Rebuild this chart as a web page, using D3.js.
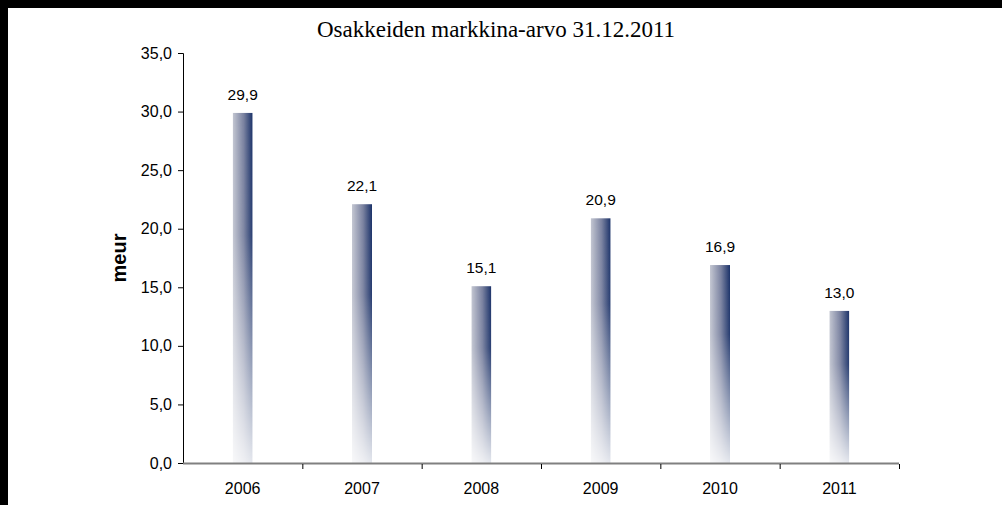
<!DOCTYPE html>
<html>
<head>
<meta charset="utf-8">
<script src="https://cdn.jsdelivr.net/npm/d3@7"></script>
<style>
  html, body { margin: 0; padding: 0; background: #000; }
  svg { display: block; }
</style>
</head>
<body>
<svg id="chart" width="1002" height="505"></svg>
<script>
// Market value of shares, million euros, at year end
const years = ["2006", "2007", "2008", "2009", "2010", "2011"];
const values = [29.9, 22.1, 15.1, 20.9, 16.9, 13.0];
const yTicks = [0, 5, 10, 15, 20, 25, 30, 35];
const titleText = "Osakkeiden markkina-arvo 31.12.2011";
const yLabel = "meur";

const svg = d3.select("#chart");
const W = 1002, H = 505;
const plot = { left: 183, right: 899, top: 53, bottom: 463 };
const sans = "Liberation Sans, Arial, sans-serif";

// white canvas with the dark frame showing on top and left
svg.append("rect").attr("x", 0).attr("y", 0).attr("width", W).attr("height", H).attr("fill", "#000");
svg.append("rect").attr("x", 8).attr("y", 8).attr("width", W - 8).attr("height", H - 8).attr("fill", "#fff");

const fmt = v => d3.format(".1f")(v).replace(".", ",");

const x = d3.scaleBand().domain(years).range([plot.left, plot.right]).paddingInner(0).paddingOuter(0);
const y = d3.scaleLinear().domain([0, 35]).range([plot.bottom, plot.top]);

// gradients: light-to-navy across the bar, fading out toward the base
const defs = svg.append("defs");
const hg = defs.append("linearGradient").attr("id", "barH").attr("x1", 0).attr("x2", 1).attr("y1", 0).attr("y2", 0);
hg.append("stop").attr("offset", "0%").attr("stop-color", "#c4c7d2");
hg.append("stop").attr("offset", "55%").attr("stop-color", "#7a82a0");
hg.append("stop").attr("offset", "100%").attr("stop-color", "#1a3168");
const vg = defs.append("linearGradient").attr("id", "fadeV").attr("x1", 0).attr("x2", 0).attr("y1", 0).attr("y2", 1);
vg.append("stop").attr("offset", "0%").attr("stop-color", "#fff");
vg.append("stop").attr("offset", "35%").attr("stop-color", "#fff").attr("stop-opacity", 0.95);
vg.append("stop").attr("offset", "100%").attr("stop-color", "#fff").attr("stop-opacity", 0.12);
const mask = defs.append("mask").attr("id", "fadeMask").attr("maskContentUnits", "objectBoundingBox");
mask.append("rect").attr("x", 0).attr("y", 0).attr("width", 1).attr("height", 1).attr("fill", "url(#fadeV)");

const barW = 20;
svg.append("g").selectAll("rect").data(values).join("rect")
  .attr("x", (d, i) => x(years[i]) + x.bandwidth() / 2 - barW / 2)
  .attr("y", d => y(d))
  .attr("width", barW)
  .attr("height", d => y(0) - y(d))
  .attr("fill", "url(#barH)")
  .attr("mask", "url(#fadeMask)");

// value labels
svg.append("g").selectAll("text").data(values).join("text")
  .attr("x", (d, i) => x(years[i]) + x.bandwidth() / 2)
  .attr("y", d => y(d) - 13)
  .attr("text-anchor", "middle")
  .attr("font-family", sans)
  .attr("font-size", 15.5)
  .attr("fill", "#000")
  .text(fmt);

// y axis
const yAxis = d3.axisLeft(y).tickValues(yTicks).tickSize(5).tickPadding(6).tickFormat(fmt);
const gy = svg.append("g").attr("transform", `translate(${plot.left},0)`).call(yAxis);
gy.select(".domain").attr("stroke", "#000");
gy.selectAll(".tick line").attr("stroke", "#000");
gy.selectAll(".tick text").attr("font-family", sans).attr("font-size", 16).attr("fill", "#000");

// x axis: gray baseline with dividers between categories
const gx = svg.append("g").attr("transform", `translate(0,${plot.bottom})`);
gx.append("line").attr("x1", plot.left).attr("x2", plot.right).attr("y1", 0.5).attr("y2", 0.5)
  .attr("stroke", "#808080").attr("stroke-width", 2);
const dividers = years.map(yr => x(yr)).slice(1).concat([plot.right]);
gx.selectAll("line.div").data(dividers).join("line").attr("class", "div")
  .attr("x1", d => d + 0.5).attr("x2", d => d + 0.5).attr("y1", 1).attr("y2", 6)
  .attr("stroke", "#000");
gx.selectAll("text").data(years).join("text")
  .attr("x", d => x(d) + x.bandwidth() / 2)
  .attr("y", 31)
  .attr("text-anchor", "middle")
  .attr("font-family", sans)
  .attr("font-size", 16)
  .attr("fill", "#000")
  .text(d => d);

// title
svg.append("text").attr("x", 496).attr("y", 37).attr("text-anchor", "middle")
  .attr("font-family", "Liberation Serif, Times New Roman, serif").attr("font-size", 23)
  .attr("fill", "#000").text(titleText);

// y label
svg.append("text").attr("transform", "translate(126,258) rotate(-90)").attr("text-anchor", "middle")
  .attr("font-family", sans).attr("font-size", 20).attr("font-weight", "bold")
  .attr("fill", "#000").text(yLabel);
</script>
</body>
</html>
